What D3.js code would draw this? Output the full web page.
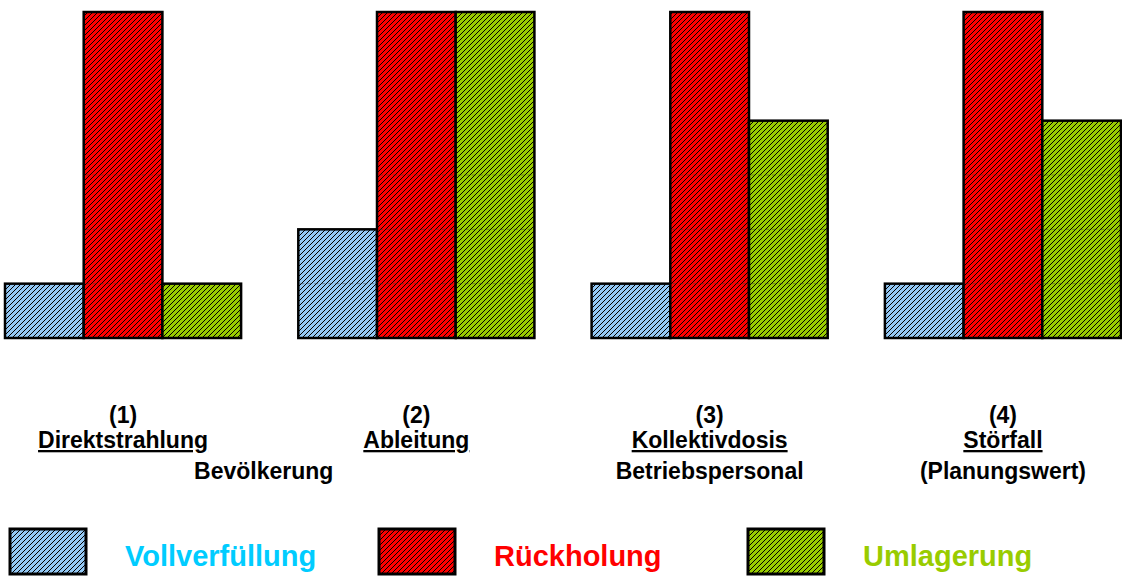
<!DOCTYPE html>
<html>
<head>
<meta charset="utf-8">
<script src="https://cdn.jsdelivr.net/npm/d3@7"></script>
<style>
  body { margin: 0; background: #fff; }
  text { font-family: "Liberation Sans", Arial, sans-serif; font-weight: bold; }
</style>
</head>
<body>
<div id="chart"></div>
<script>
const groups = ["(1)", "(2)", "(3)", "(4)"];
const groupTitles = ["Direktstrahlung", "Ableitung", "Kollektivdosis", "Störfall"];
const groupNotes = ["", "", "Betriebspersonal", "(Planungswert)"];
const series = ["Vollverfüllung", "Rückholung", "Umlagerung"];
const vollverfuellung = [1, 2, 1, 1];
const rueckholung = [6, 6, 6, 6];
const umlagerung = [1, 6, 4, 4];
const gridValues = [1, 2, 3];

const width = 1122;
const height = 576;

const fills = ["#94c8f4", "#ff0000", "#99cc00"];
const textColors = ["#00ccff", "#ff0000", "#99cc00"];

const values = [vollverfuellung, rueckholung, umlagerung];

const svg = d3.select("#chart").append("svg")
  .attr("width", width)
  .attr("height", height);

// hatch patterns, "/" stripes on a 5px tile
const defs = svg.append("defs");
const tile = 5;
series.forEach((s, i) => {
  const p = defs.append("pattern")
    .attr("id", "hatch" + i)
    .attr("patternUnits", "userSpaceOnUse")
    .attr("width", tile)
    .attr("height", tile);
  p.append("rect").attr("width", tile).attr("height", tile).attr("fill", fills[i]);
  p.append("path")
    .attr("d", `M0,${tile} L${tile},0 M-1,1 L1,-1 M${tile - 1},${tile + 1} L${tile + 1},${tile - 1}`)
    .attr("stroke", "#000")
    .attr("stroke-width", 1.3)
    .attr("shape-rendering", "crispEdges");
});

const x0 = d3.scaleBand().domain(groups).range([5, 1121]).paddingInner(0.195);
const x1 = d3.scaleBand().domain(series).range([0, x0.bandwidth()]);
const y = d3.scaleLinear().domain([0, 6]).range([338, 12]);

const bars = [];
groups.forEach((g, gi) => {
  series.forEach((s, si) => {
    bars.push({ g, s, si, v: values[si][gi] });
  });
});

svg.append("g").selectAll("rect")
  .data(bars)
  .enter()
  .append("rect")
  .attr("x", (d) => x0(d.g) + x1(d.s))
  .attr("y", (d) => y(d.v))
  .attr("width", x1.bandwidth())
  .attr("height", (d) => y(0) - y(d.v))
  .attr("fill", (d) => "url(#hatch" + d.si + ")")
  .attr("stroke", "#000")
  .attr("stroke-width", 2.5);

// faint grid dashes visible only through the bars
const gridSegs = [];
bars.forEach((b) => {
  gridValues.forEach((gv) => {
    if (gv < b.v) gridSegs.push({ b, gv });
  });
});
svg.append("g").selectAll("line")
  .data(gridSegs)
  .enter()
  .append("line")
  .attr("x1", (d) => x0(d.b.g) + x1(d.b.s) + 2)
  .attr("x2", (d) => x0(d.b.g) + x1(d.b.s) + x1.bandwidth() - 2)
  .attr("y1", (d) => y(d.gv))
  .attr("y2", (d) => y(d.gv))
  .attr("stroke", "#333")
  .attr("stroke-opacity", 0.45)
  .attr("stroke-dasharray", "4,3")
  .attr("stroke-width", 1);

// category labels
const labels = svg.append("g").attr("font-size", 23).attr("text-anchor", "middle").attr("fill", "#000");
groups.forEach((g, i) => {
  const cx = x0(g) + x0.bandwidth() / 2;
  labels.append("text").attr("x", cx).attr("y", 423).text(g);
  labels.append("text").attr("x", cx).attr("y", 448)
    .attr("text-decoration", "underline").text(groupTitles[i]);
  if (groupNotes[i]) labels.append("text").attr("x", cx).attr("y", 479).text(groupNotes[i]);
});
// Bevölkerung sits between groups 1 and 2
labels.append("text")
  .attr("x", (x0(groups[0]) + x0.bandwidth() + x0(groups[1])) / 2 - 6)
  .attr("y", 479)
  .text("Bevölkerung");

// legend
const lx = d3.scaleBand().domain(series).range([10, 1117]);
const legend = svg.append("g");
series.forEach((s, i) => {
  legend.append("rect")
    .attr("x", lx(s))
    .attr("y", 529)
    .attr("width", 76)
    .attr("height", 45)
    .attr("fill", "url(#hatch" + i + ")")
    .attr("stroke", "#000")
    .attr("stroke-width", 3);
  legend.append("text")
    .attr("x", lx(s) + 115)
    .attr("y", 566)
    .attr("font-size", 29)
    .attr("fill", textColors[i])
    .text(s);
});
</script>
</body>
</html>
